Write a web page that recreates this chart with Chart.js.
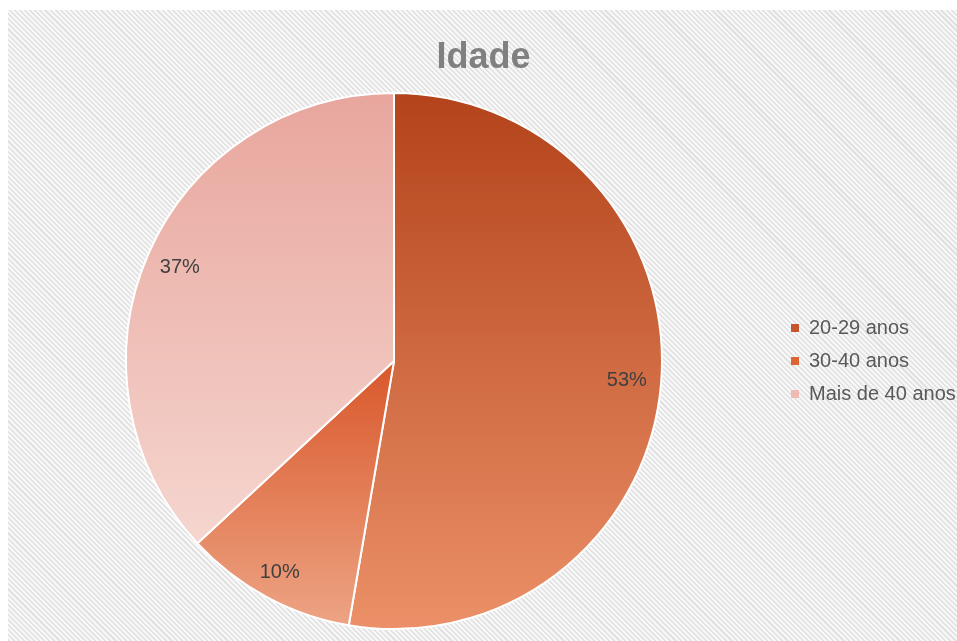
<!DOCTYPE html>
<html>
<head>
<meta charset="utf-8">
<script src="https://cdn.jsdelivr.net/npm/chart.js@4.4.1/dist/chart.umd.min.js"></script>
<style>
  html, body { margin: 0; padding: 0; background: #fff; }
  #wrap {
    position: absolute; left: 8px; top: 10px; width: 949px; height: 631px;
    background: repeating-linear-gradient(45deg, #e1e1e1 0, #e1e1e1 1.5px, #f7f7f7 1.5px, #f7f7f7 3.6px);
  }
</style>
</head>
<body>
<div id="wrap"><canvas id="idadeChart" width="949" height="631"></canvas></div>
<script>
// Idade: share of respondents by age group, in %
const categories = ["20-29 anos", "30-40 anos", "Mais de 40 anos"];
const shares = [52.7, 10.4, 36.9];

// slice gradients, top -> bottom of each slice
const topColors = ["#B3431A", "#D9572A", "#E8A69D"];
const bottomColors = ["#EB9068", "#EDA484", "#F5D6CF"];
const legendColors = ["#C65530", "#DE6434", "#EEBBB3"];

const FONT = '"Liberation Sans", Arial, sans-serif';

function arcProps(arc) {
  return arc.getProps(["x", "y", "startAngle", "endAngle", "outerRadius"], true);
}

// per-slice vertical gradient + "inside end" style percent labels
const slicePainter = {
  id: "slicePainter",
  beforeDatasetsDraw(chart) {
    const ctx = chart.ctx;
    chart.getDatasetMeta(0).data.forEach((arc, i) => {
      const { x, y, startAngle, endAngle, outerRadius } = arcProps(arc);
      let minY = y, maxY = y;
      const angles = [startAngle, endAngle];
      for (let a = -2 * Math.PI; a <= 4 * Math.PI; a += Math.PI / 2) {
        if (a > startAngle && a < endAngle) angles.push(a);
      }
      angles.forEach(a => {
        const py = y + Math.sin(a) * outerRadius;
        minY = Math.min(minY, py);
        maxY = Math.max(maxY, py);
      });
      const g = ctx.createLinearGradient(0, minY, 0, maxY);
      g.addColorStop(0, topColors[i]);
      g.addColorStop(1, bottomColors[i]);
      arc.options.backgroundColor = g;
    });
  },
  afterDatasetsDraw(chart) {
    const ctx = chart.ctx;
    const total = shares.reduce((a, b) => a + b, 0);
    ctx.save();
    ctx.font = "20px " + FONT;
    ctx.fillStyle = "#404040";
    ctx.textAlign = "center";
    ctx.textBaseline = "middle";
    chart.getDatasetMeta(0).data.forEach((arc, i) => {
      const { x, y, startAngle, endAngle, outerRadius } = arcProps(arc);
      const mid = (startAngle + endAngle) / 2;
      const text = Math.round(shares[i] / total * 100) + "%";
      const hw = ctx.measureText(text).width / 2, hh = 5;
      const cos = Math.cos(mid), sin = Math.sin(mid);
      const d = outerRadius - 14 - (hw * Math.abs(cos) + hh * Math.abs(sin));
      ctx.fillText(text, x + cos * d, y + sin * d);
    });
    ctx.restore();
  }
};

new Chart(document.getElementById("idadeChart"), {
  type: "pie",
  data: {
    labels: categories,
    datasets: [{
      data: shares,
      backgroundColor: legendColors.slice(),
      borderColor: "#ffffff",
      borderWidth: 2,
      hoverOffset: 0,
      radius: 268
    }]
  },
  plugins: [slicePainter],
  options: {
    responsive: false,
    animation: false,
    events: [],
    layout: { padding: { left: 2, bottom: 12 } },
    plugins: {
      title: {
        display: true,
        text: "Idade",
        color: "#808080",
        font: { family: FONT, size: 36, weight: "bold" },
        padding: { top: 26, bottom: 14 }
      },
      legend: {
        position: "right",
        maxWidth: 179,
        // empty title only pushes the item column down to mid-pie
        title: { display: true, text: " ", font: { size: 10 }, padding: { top: 71, bottom: 0 } },
        labels: {
          boxWidth: 8,
          boxHeight: 8,
          padding: 13,
          color: "#595959",
          font: { family: FONT, size: 20 },
          generateLabels: (chart) => categories.map((c, i) => ({
            text: c,
            fillStyle: legendColors[i],
            strokeStyle: legendColors[i],
            lineWidth: 0,
            fontColor: "#595959",
            index: i,
            hidden: false
          }))
        }
      },
      tooltip: { enabled: false }
    }
  }
});
</script>
</body>
</html>
